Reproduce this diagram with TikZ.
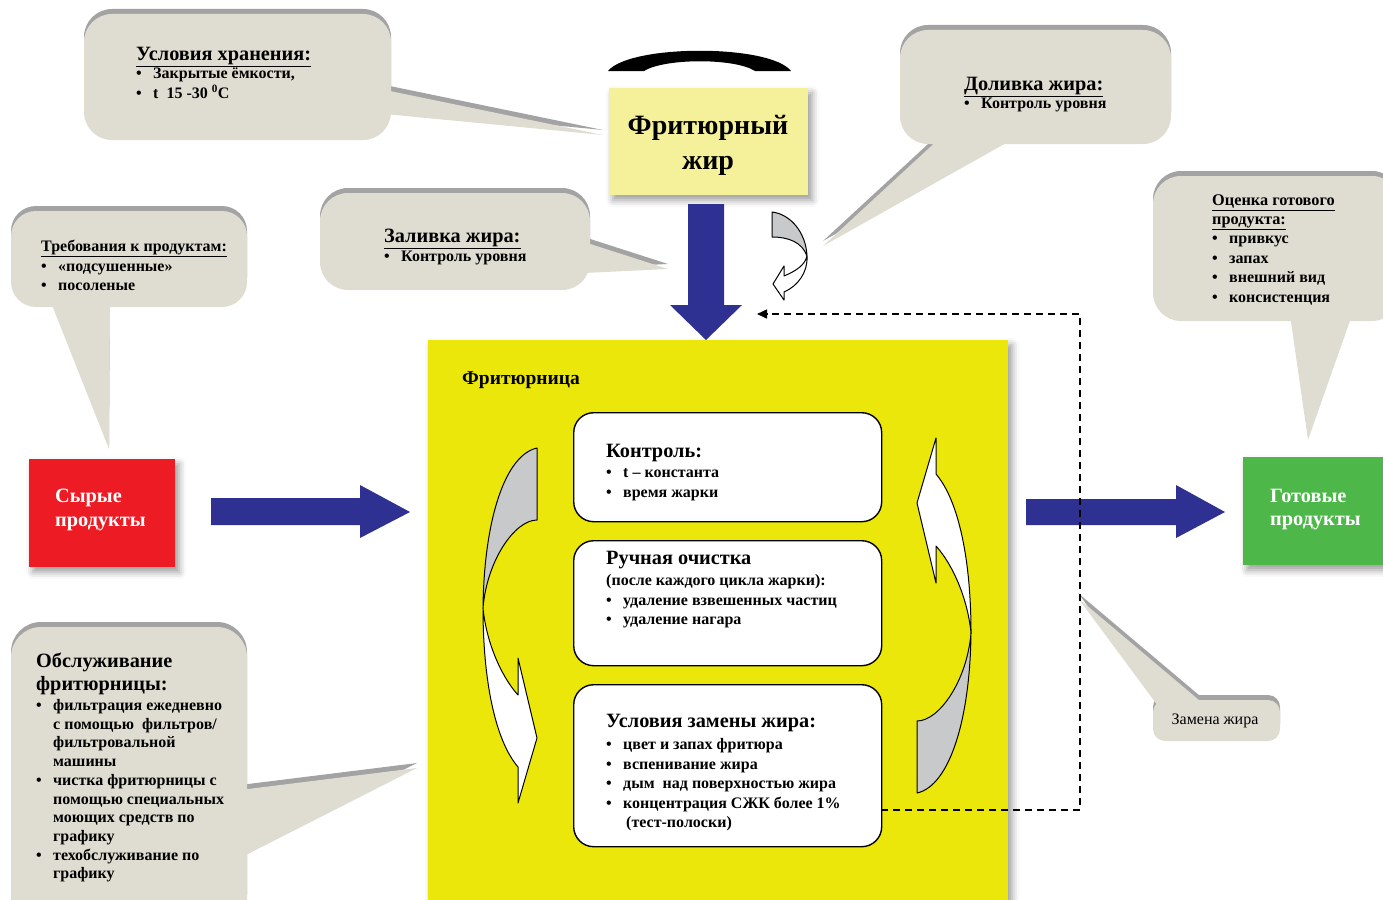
\documentclass[tikz,border=0pt]{standalone}
\usepackage{fontspec}
\setmainfont{Liberation Serif}
\usetikzlibrary{shadows.blur,arrows.meta}
\definecolor{calfill}{HTML}{DFDDD1}
\definecolor{calbevel}{HTML}{A3A3A3}
\definecolor{fatyel}{HTML}{F5F19B}
\definecolor{bigyel}{HTML}{ECE70B}
\definecolor{arrblue}{HTML}{2E3192}
\definecolor{rawred}{HTML}{ED1C24}
\definecolor{readygreen}{HTML}{4DB849}
\definecolor{curvegray}{HTML}{C8C9CB}
\newcommand{\fsz}[2]{\fontsize{#1}{#2}\selectfont}
\newcommand{\bul}{\makebox[17pt][l]{\textbullet}}
\newcommand{\ind}{\hspace*{17pt}}
\newcommand{\callout}[3]{%
  \fill[calbevel,yshift=5pt,rounded corners=#2] #1;
  \fill[calbevel,yshift=5pt] #3 -- cycle;
  \fill[calfill,rounded corners=#2] #1;
  \fill[calfill] #3 -- cycle;
}
\newcommand{\curvearrowshape}{%
  \filldraw[curvepiece,fill=curvegray] (537,448) .. controls (505,455) and (484,520) .. (483,608)
     .. controls (487,560) and (515,520) .. (537,520) -- cycle;
  \filldraw[curvepiece,fill=white] (483,608) .. controls (483,680) and (495,740) .. (518,767)
     -- (518,803) -- (537,738) -- (518,658) -- (518,695)
     .. controls (500,675) and (486,640) .. (483,608) -- cycle;
}
\tikzset{
  txt/.style={inner sep=0pt, anchor=base west, align=left, font=\bfseries},
  boxshadow/.style={blur shadow={shadow xshift=4pt, shadow yshift=-5pt, shadow blur radius=7pt, shadow opacity=40}},
  inbox/.style={draw=black, line width=1.4pt, fill=white, rounded corners=20pt, inner sep=0pt, anchor=north west, minimum width=308},
  curvepiece/.style={draw=black, line width=1pt, line join=round},
  plainbox/.style={inner sep=0pt, anchor=north west},
}
\begin{document}
\begin{tikzpicture}[x=1pt,y=-1pt]
\useasboundingbox (0,0) rectangle (1383,899);
\clip (0,0) rectangle (1383,899);

% ---------- fryer (big yellow) ----------
\node[plainbox, fill=bigyel, boxshadow, minimum width=580, minimum height=600] (fryer) at (428,340) {};
\node[txt, font=\bfseries\fsz{19.5}{22}] (fryerlbl) at (462,384.5) {Фритюрница};

% ---------- callouts ----------
\callout{(84,14) rectangle (391,140)}{28}{(385,90) -- (603,135) -- (385,114)}
\callout{(900,30) rectangle (1171,144)}{28}{(940,138) -- (823,246) -- (1015,138)}
\callout{(320,193) rectangle (590,290)}{28}{(584,242) -- (668,269) -- (584,273)}
\callout{(11,211) rectangle (247,307)}{25}{(50,300) -- (109,449) -- (110,300)}
\callout{(1153,176) rectangle (1400,321)}{28}{(1290,315) -- (1308,440) -- (1352,315)}
\callout{(1153,700) rectangle (1280,741)}{12}{(1158,706) -- (1078,598) -- (1206,706)}
\callout{(11,627) rectangle (247,930)}{30}{(240,790) -- (417,768) -- (240,858)}

% callout texts (base anchor = baseline of the last line)
\node[txt, font=\bfseries\fsz{20.3}{23}] (hstore) at (136,60) {\underline{Условия хранения:}};
\node[txt, font=\bfseries\fsz{16}{20}] (lstore) at (136,98.5) {\bul Закрытые ёмкости,\\ \bul t\ \ 15 -30 \textsuperscript{0}C};

\node[txt, font=\bfseries\fsz{20.3}{23}] (htop) at (964,90) {\underline{Доливка жира:}};
\node[txt, font=\bfseries\fsz{16}{20}] (ltop) at (964,108.5) {\bul Контроль уровня};

\node[txt, font=\bfseries\fsz{20.3}{23}] (hfill) at (384,242.5) {\underline{Заливка жира:}};
\node[txt, font=\bfseries\fsz{16}{20}] (lfill) at (384,261.5) {\bul Контроль уровня};

\node[txt, font=\bfseries\fsz{16}{19}] (hreq) at (41,251) {\underline{Требования к продуктам:}};
\node[txt, font=\bfseries\fsz{16}{19}] (lreq) at (41,290.5) {\bul «подсушенные»\\ \bul посоленые};

\node[txt, font=\bfseries\fsz{16.3}{19}] (heval) at (1212,224.5) {\underline{Оценка готового}\\ \underline{продукта:}};
\node[txt, font=\bfseries\fsz{16}{19.7}] (leval) at (1212,302.6) {\bul привкус\\ \bul запах\\ \bul внешний вид\\ \bul консистенция};

\node[inner sep=0pt, font=\fsz{16}{18}] (lchange) at (1215,721) {Замена жира};

\node[txt, font=\bfseries\fsz{20.3}{23}] (hserv) at (36,690) {Обслуживание\\ фритюрницы:};
\node[txt, font=\bfseries\fsz{16}{18.7}] (lserv) at (36,878.8) {\bul фильтрация ежедневно\\ \ind с помощью\ \ фильтров/\\ \ind фильтровальной\\ \ind машины\\ \bul чистка фритюрницы с\\ \ind помощью специальных\\ \ind моющих средств по\\ \ind графику\\ \bul техобслуживание по\\ \ind графику};

% ---------- deep-frying fat ----------
\fill[black] (608,71) .. controls (630,44) and (770,44) .. (791,71) -- (755,71) .. controls (735,58) and (665,58) .. (644,71) -- cycle;
\node[plainbox, fill=fatyel, boxshadow, minimum width=199, minimum height=107] (fat) at (609,88) {};
\node[inner sep=0pt, font=\bfseries\fsz{28}{35}, align=center] (fattxt) at (708,145) {Фритюрный\\ жир};

% down block arrow
\fill[arrblue] (688,204) -- (724,204) -- (724,305) -- (742,305) -- (706,340) -- (670,305) -- (688,305) -- cycle;

% small curved arrow
\filldraw[curvepiece,fill=curvegray] (772,212) .. controls (790,214) and (806,232) .. (807,256)
   .. controls (802,242) and (788,237) .. (772,237) -- cycle;
\filldraw[curvepiece,fill=white] (807,256) .. controls (808,272) and (798,286) .. (784,292)
   -- (784,300) -- (773,284) -- (784,266) -- (784,276)
   .. controls (796,271) and (805,265) .. (807,256) -- cycle;

% ---------- raw & ready products ----------
\node[plainbox, fill=rawred, boxshadow, minimum width=146, minimum height=108] (raw) at (29,459) {};
\node[txt, font=\bfseries\fsz{20.3}{24}, text=white] (rawtxt) at (55,526) {Сырые\\ продукты};
\node[plainbox, fill=readygreen, boxshadow, minimum width=145, minimum height=108] (ready) at (1243,457) {};
\node[txt, font=\bfseries\fsz{20.3}{23}, text=white] (readytxt) at (1270,525) {Готовые\\ продукты};

\fill[arrblue] (211,498) -- (360,498) -- (360,485) -- (410,512) -- (360,538) -- (360,525) -- (211,525) -- cycle;
\fill[arrblue] (1026,499) -- (1176,499) -- (1176,485) -- (1225,512) -- (1176,538) -- (1176,525) -- (1026,525) -- cycle;

% ---------- inner boxes ----------
\node[inbox, minimum height=109] (ctrl) at (573,412) {};
\node[inbox, minimum height=125] (clean) at (573,540) {};
\node[inbox, minimum height=162] (change) at (573,684) {};

\node[txt, font=\bfseries\fsz{20.3}{23}] (hctrl) at (606,457.5) {Контроль:};
\node[txt, font=\bfseries\fsz{16}{20}] (lctrl) at (606,497.5) {\bul t – константа\\ \bul время жарки};

\node[txt, font=\bfseries\fsz{20.3}{23}] (hclean) at (606,564.5) {Ручная очистка};
\node[txt, font=\bfseries\fsz{16}{19.5}] (lclean) at (606,624.5) {(после каждого цикла жарки):\\ \bul удаление взвешенных частиц\\ \bul удаление нагара};

\node[txt, font=\bfseries\fsz{20.3}{23}] (hchange) at (606,727.5) {Условия замены жира:};
\node[txt, font=\bfseries\fsz{16}{19.5}] (lchangeb) at (606,827.5) {\bul цвет и запах фритюра\\ \bul вспенивание жира\\ \bul дым\ \ над поверхностью жира\\ \bul концентрация СЖК более 1\%\\ \hspace*{20pt}(тест-полоски)};

% ---------- cycle arrows ----------
\curvearrowshape
\begin{scope}[rotate around={180:(727,620.5)}]
\curvearrowshape
\end{scope}

% ---------- dashed return line ----------
\coordinate (dashstart) at (881,810);
\coordinate (dashend) at (757,314);
\draw[line width=1.6pt, dash pattern=on 7pt off 5pt, -{Triangle[length=10pt,width=9pt]}] (dashstart) -- (1080,810) -- (1080,314) -- (dashend);
\end{tikzpicture}
\end{document}
